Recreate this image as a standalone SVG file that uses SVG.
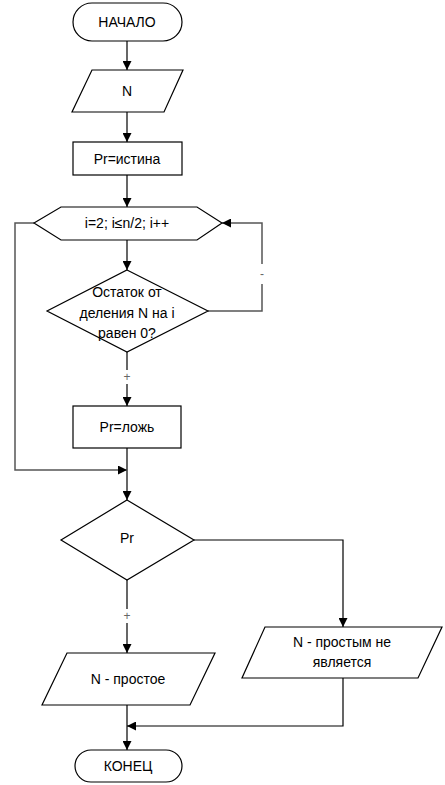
<svg xmlns="http://www.w3.org/2000/svg" width="445" height="785" viewBox="0 0 445 785">
<style>
.s{fill:#fff;stroke:#000;stroke-width:1.2}
.t{font-family:"Liberation Sans",Arial,sans-serif;font-size:14px;fill:#000;text-anchor:middle;dominant-baseline:central}
.c{fill:none;stroke:#000;stroke-width:1.2}
.g{stroke:#555;stroke-width:1.5}
.l{font-family:"Liberation Sans",Arial,sans-serif;font-size:12px;fill:#666;text-anchor:middle;dominant-baseline:central}
</style>
<defs>
<marker id="a" markerUnits="userSpaceOnUse" markerWidth="9" markerHeight="9" refX="9" refY="4.5" orient="auto">
<path d="M0,0 L9,4.5 L0,9 z" fill="#000"/>
</marker>
</defs>
<rect width="445" height="785" fill="#fff"/>
<g id="connectors">
<path class="c" d="M127,41 V70" marker-end="url(#a)"/>
<path class="c" d="M127,112 V142" marker-end="url(#a)"/>
<path class="c" d="M127,175 V207" marker-end="url(#a)"/>
<path class="c" d="M127,240 V270" marker-end="url(#a)"/>
<path class="c" d="M127,352 V406" marker-end="url(#a)"/>
<path class="c" d="M127,448 V500" marker-end="url(#a)"/>
<path class="c g" d="M34,223 H15 V470 H127" marker-end="url(#a)"/>
<path class="c g" d="M208,311 H262 V223 H222" marker-end="url(#a)"/>
<path class="c" d="M194,540 H343 V627" marker-end="url(#a)"/>
<path class="c" d="M127,580 V653" marker-end="url(#a)"/>
<path class="c" d="M343,678 V726 H127" marker-end="url(#a)"/>
<path class="c" d="M127,705 V750" marker-end="url(#a)"/>
<rect x="121" y="370" width="12" height="14" fill="#fff"/>
<text class="l" x="127" y="377">+</text>
<rect x="256" y="264" width="12" height="20" fill="#fff"/>
<text class="l" x="262" y="274">-</text>
<rect x="121" y="609" width="12" height="14" fill="#fff"/>
<text class="l" x="127" y="616">+</text>
</g>
<g id="start">
<rect class="s" x="73" y="3" width="109" height="38" rx="19"/>
<text class="t" x="127" y="22">НАЧАЛО</text>
</g>
<g id="input-n">
<polygon class="s" points="92,70 183,70 164,112 72,112"/>
<text class="t" x="127" y="91">N</text>
</g>
<g id="pr-true">
<rect class="s" x="73" y="142" width="109" height="33"/>
<text class="t" x="127" y="159">Pr=истина</text>
</g>
<g id="loop">
<polygon class="s" points="34,223 61,207 197,207 222,223 197,240 61,240"/>
<text class="t" x="127" y="223">i=2; i≤n/2; i++</text>
</g>
<g id="check-remainder">
<polygon class="s" points="127,270 208,311 127,352 47,311"/>
<text class="t" x="127" y="292">Остаток от</text>
<text class="t" x="127" y="313">деления N на i</text>
<text class="t" x="127" y="333">равен 0?</text>
</g>
<g id="pr-false">
<rect class="s" x="73" y="406" width="108" height="42"/>
<text class="t" x="127" y="427">Pr=ложь</text>
</g>
<g id="check-pr">
<polygon class="s" points="127,500 194,540 127,580 61,540"/>
<text class="t" x="127" y="538">Pr</text>
</g>
<g id="prime">
<polygon class="s" points="67,653 215,653 190,705 42,705"/>
<text class="t" x="128" y="679">N - простое</text>
</g>
<g id="not-prime">
<polygon class="s" points="265,627 442,627 418,678 242,678"/>
<text class="t" x="342" y="642">N - простым не</text>
<text class="t" x="342" y="662">является</text>
</g>
<g id="end">
<rect class="s" x="75" y="750" width="107" height="32" rx="16"/>
<text class="t" x="128" y="766">КОНЕЦ</text>
</g>
</svg>
